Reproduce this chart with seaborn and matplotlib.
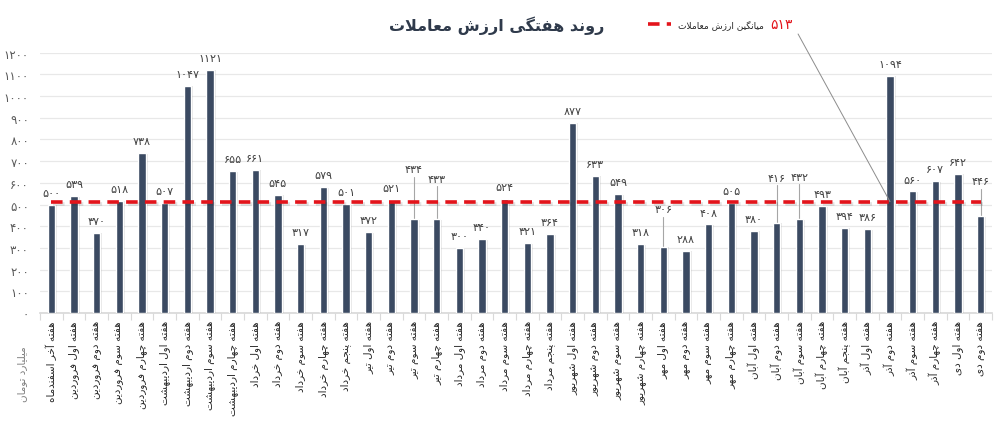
import matplotlib
matplotlib.use('Agg')
import matplotlib.pyplot as plt
import matplotlib.patheffects as pe
import seaborn as sns
import pandas as pd
import numpy as np

weeks = [
    "هفته آخر اسفندماه", "هفته اول فروردین", "هفته دوم فروردین", "هفته سوم فروردین",
    "هفته چهارم فروردین", "هفته اول اردیبهشت", "هفته دوم اردیبهشت", "هفته سوم اردیبهشت",
    "هفته چهارم اردیبهشت", "هفته اول خرداد", "هفته دوم خرداد", "هفته سوم خرداد",
    "هفته چهارم خرداد", "هفته پنجم خرداد", "هفته اول تیر", "هفته دوم تیر",
    "هفته سوم تیر", "هفته چهارم تیر", "هفته اول مرداد", "هفته دوم مرداد",
    "هفته سوم مرداد", "هفته چهارم مرداد", "هفته پنجم مرداد", "هفته اول شهریور",
    "هفته دوم شهریور", "هفته سوم شهریور", "هفته چهارم شهریور", "هفته اول مهر",
    "هفته دوم مهر", "هفته سوم مهر", "هفته چهارم مهر", "هفته اول آبان",
    "هفته دوم آبان", "هفته سوم آبان", "هفته چهارم آبان", "هفته پنجم آبان",
    "هفته اول آذر", "هفته دوم آذر", "هفته سوم آذر", "هفته چهارم آذر",
    "هفته اول دی", "هفته دوم دی",
]
values = [
    500, 539, 370, 518, 738, 507, 1047, 1121, 655, 661, 545, 317, 579, 501,
    372, 521, 434, 433, 300, 340, 524, 321, 364, 877, 633, 549, 318, 306,
    288, 408, 505, 380, 416, 432, 493, 394, 386, 1094, 560, 607, 642, 446,
]
mean_value = 513
title = "روند هفتگی ارزش معاملات"
mean_label = "میانگین ارزش معاملات"
y_label = "میلیارد تومان"

# labels that were pushed up with a leader line (index -> label height)
lifted = {16: 640, 17: 595, 27: 455, 32: 600, 33: 605, 41: 585}

# --- minimal persian shaping (matplotlib has no complex text layout) ---
FORMS = {
    'ا': ('\uFE8D', '\uFE8E', None, None), 'آ': ('\uFE81', '\uFE82', None, None),
    'ب': ('\uFE8F', '\uFE90', '\uFE91', '\uFE92'), 'پ': ('\uFB56', '\uFB57', '\uFB58', '\uFB59'),
    'ت': ('\uFE95', '\uFE96', '\uFE97', '\uFE98'), 'ج': ('\uFE9D', '\uFE9E', '\uFE9F', '\uFEA0'),
    'چ': ('\uFB7A', '\uFB7B', '\uFB7C', '\uFB7D'), 'خ': ('\uFEA5', '\uFEA6', '\uFEA7', '\uFEA8'),
    'د': ('\uFEA9', '\uFEAA', None, None), 'ذ': ('\uFEAB', '\uFEAC', None, None),
    'ر': ('\uFEAD', '\uFEAE', None, None), 'ز': ('\uFEAF', '\uFEB0', None, None),
    'س': ('\uFEB1', '\uFEB2', '\uFEB3', '\uFEB4'), 'ش': ('\uFEB5', '\uFEB6', '\uFEB7', '\uFEB8'),
    'ع': ('\uFEC9', '\uFECA', '\uFECB', '\uFECC'), 'ف': ('\uFED1', '\uFED2', '\uFED3', '\uFED4'),
    'ق': ('\uFED5', '\uFED6', '\uFED7', '\uFED8'), 'گ': ('\uFB92', '\uFB93', '\uFB94', '\uFB95'),
    'ک': ('\uFB8E', '\uFB8F', '\uFB90', '\uFB91'), 'ل': ('\uFEDD', '\uFEDE', '\uFEDF', '\uFEE0'),
    'م': ('\uFEE1', '\uFEE2', '\uFEE3', '\uFEE4'), 'ن': ('\uFEE5', '\uFEE6', '\uFEE7', '\uFEE8'),
    'و': ('\uFEED', '\uFEEE', None, None), 'ه': ('\uFEE9', '\uFEEA', '\uFEEB', '\uFEEC'),
    'ی': ('\uFBFC', '\uFBFD', '\uFBFE', '\uFBFF'),
}


def shape(text):
    out = []
    for word in text.split(' '):
        w = word.replace('لا', '\uFFF0')  # lam-alef placeholder
        chars = list(w)
        res = []
        for i, c in enumerate(chars):
            prev = chars[i - 1] if i > 0 else None
            nxt = chars[i + 1] if i < len(chars) - 1 else None
            prev_joins = prev is not None and prev in FORMS and FORMS[prev][2] is not None
            if c == '\uFFF0':
                res.append('\uFEFC' if prev_joins else '\uFEFB')
                continue
            if c not in FORMS:
                res.append(c)
                continue
            f = FORMS[c]
            next_ok = nxt is not None and (nxt in FORMS or nxt == '\uFFF0') and f[2] is not None
            if prev_joins and next_ok:
                res.append(f[3])
            elif prev_joins:
                res.append(f[1])
            elif next_ok:
                res.append(f[2])
            else:
                res.append(f[0])
        out.append(''.join(res)[::-1])
    return ' '.join(out[::-1])


def fa_num(n):
    return str(n).translate(str.maketrans('0123456789', '۰۱۲۳۴۵۶۷۸۹'))


sns.set_theme(style='white')
plt.rcParams['font.family'] = ['DejaVu Sans']

df = pd.DataFrame({'week': [shape(w) for w in weeks], 'value': values})

fig, ax = plt.subplots(figsize=(10, 4.35), dpi=100)
fig.subplots_adjust(left=0.04, right=0.992, top=0.877, bottom=0.278)

bar_color = '#3b4a62'
sns.barplot(data=df, x='week', y='value', color=bar_color, width=0.33,
            saturation=1, ax=ax, zorder=3)
for p in ax.patches:
    p.set_path_effects([pe.SimplePatchShadow(offset=(1.5, -0.5), shadow_rgbFace='#000000', alpha=0.1),
                        pe.Normal()])

x = np.arange(len(values))
mean_line, = ax.plot(x[[0, -1]], [mean_value, mean_value], color='#e3141b', lw=2.6,
                     ls=(0, (3.2, 2.0)), zorder=4, label=shape(mean_label),
                     path_effects=[pe.SimpleLineShadow(offset=(1.5, -1.5), alpha=0.12), pe.Normal()])

# value labels
for i, v in enumerate(values):
    if i in lifted:
        ly = lifted[i]
        ax.plot([i, i], [v, ly - 12], color='#a6a6a6', lw=0.8, zorder=2)
        ax.annotate(fa_num(v), (i, ly), ha='center', va='bottom', fontsize=8, color='#404040')
    else:
        ax.annotate(fa_num(v), (i, v), xytext=(0, 5), textcoords='offset points',
                    ha='center', va='bottom', fontsize=8, color='#404040')

ax.set_ylim(0, 1200)
ax.set_xlim(-0.5, len(values) - 0.5)
ax.set_yticks(range(0, 1201, 100))
ax.set_yticklabels([fa_num(t) for t in range(0, 1201, 100)], fontsize=8.5, color='#595959')
ax.yaxis.grid(True, color='#e8e8e8', lw=0.9, zorder=0)
ax.set_axisbelow(True)
ax.tick_params(axis='y', length=0, pad=8)
ax.tick_params(axis='x', length=0, pad=5)
plt.setp(ax.get_xticklabels(), rotation=90, fontsize=7.5, color='#262626', va='top')
ax.set_xticks(np.arange(-0.5, len(values), 1), minor=True)
ax.tick_params(axis='x', which='minor', length=5, color='#d9d9d9', width=0.8, bottom=True)
ax.set_xlabel('')
ax.set_ylabel('')
for s in ['top', 'right', 'left']:
    ax.spines[s].set_visible(False)
ax.spines['bottom'].set_color('#d9d9d9')

fig.text(0.022, 0.14, shape(y_label), rotation=90, ha='center', va='center',
         fontsize=7.5, color='#7f7f7f')

ax.set_title(shape(title), fontsize=11.5, fontweight='bold', color='#2f3a4b', pad=16, x=0.48)

leg = ax.legend(handles=[mean_line], loc='center right', bbox_to_anchor=(0.76, 1.108), frameon=False,
                fontsize=6.5, handlelength=2.6, handletextpad=0.7, borderaxespad=0, borderpad=0)
leg.get_lines()[0].set_path_effects([pe.Normal()])
ax.annotate(fa_num(mean_value), xy=(37, mean_value), xytext=(0.779, 1.108),
            textcoords='axes fraction', ha='center', va='center', fontsize=10, color='#e3141b',
            arrowprops=dict(arrowstyle='-', color='#8c8c8c', lw=0.7, relpos=(1, 0.5),
                            shrinkA=3, shrinkB=0))

fig.savefig('out.png', dpi=100, facecolor='white')
